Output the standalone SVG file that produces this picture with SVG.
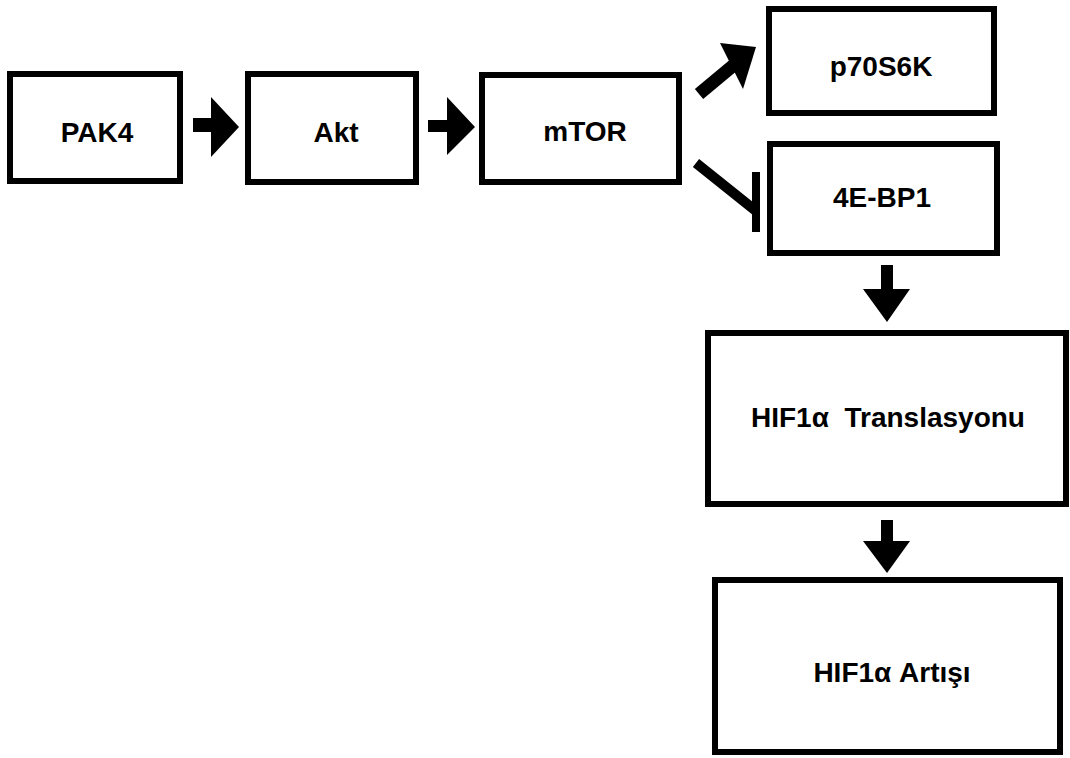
<svg xmlns="http://www.w3.org/2000/svg" width="1070" height="758" viewBox="0 0 1070 758">
<style>
.box{fill:#fff;stroke:#000;stroke-width:6;stroke-linejoin:miter}
.lbl{font-family:"Liberation Sans",Arial,sans-serif;font-weight:bold;font-size:28px;fill:#000;text-anchor:middle;white-space:pre}
.arr{fill:#000;stroke:none}
.ln{stroke:#000;fill:none;stroke-linecap:butt}
</style>
<rect width="1070" height="758" fill="#fff"/>
<g id="PAK4"><rect class="box" x="10" y="74" width="170" height="107"/><text class="lbl" x="97" y="142">PAK4</text></g>
<g id="Akt"><rect class="box" x="248" y="74" width="168" height="108"/><text class="lbl" x="336" y="142">Akt</text></g>
<g id="mTOR"><rect class="box" x="482" y="75" width="197" height="107"/><text class="lbl" x="585" y="141">mTOR</text></g>
<g id="p70S6K"><rect class="box" x="769" y="9" width="225" height="104"/><text class="lbl" x="881" y="76">p70S6K</text></g>
<g id="4E-BP1"><rect class="box" x="770" y="144" width="227" height="109"/><text class="lbl" x="882" y="207">4E-BP1</text></g>
<g id="HIF1a-Translasyonu"><rect class="box" x="708" y="333" width="358" height="171"/><text class="lbl" x="888" y="427" xml:space="preserve">HIF1α  Translasyonu</text></g>
<g id="HIF1a-Artisi"><rect class="box" x="715" y="580" width="345" height="172"/><text class="lbl" x="892" y="682">HIF1α Artışı</text></g>
<g id="connectors">
<path class="arr" d="M193,118 H211 V97 L239,127 L211,157 V132 H193 Z"/>
<path class="arr" d="M428,120 H447 V97 L475,127 L447,155 V132 H428 Z"/>
<line class="ln" x1="699" y1="94" x2="735" y2="64" stroke-width="13"/>
<path class="arr" d="M720,43 L756,47 L743,89 Z"/>
<line class="ln" x1="696" y1="163" x2="756" y2="211" stroke-width="10"/>
<line class="ln" x1="756" y1="172" x2="756" y2="232" stroke-width="8"/>
<path class="arr" d="M881,265 H893 V289 H910 L887,322 L863,289 H881 Z"/>
<path class="arr" d="M881,520 H893 V541 H910 L887,573 L863,541 H881 Z"/>
</g>
</svg>
